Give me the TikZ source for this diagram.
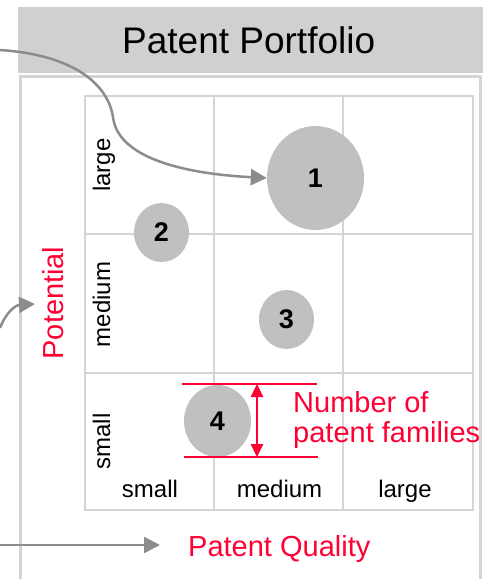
\documentclass[tikz,border=0pt]{standalone}
\usepackage{fontspec}
\setmainfont{Liberation Sans}
\usetikzlibrary{arrows.meta,shapes.geometric}
\definecolor{pred}{RGB}{255,0,51}
\definecolor{garrow}{RGB}{140,140,140}
\definecolor{gridc}{RGB}{212,212,212}
\definecolor{hdr}{RGB}{208,208,208}
\definecolor{bub}{RGB}{192,192,192}
\tikzset{
  gridline/.style={draw=gridc, line width=1.2pt},
  panel/.style={draw=gridc, line width=3pt},
  bubble/.style={ellipse, fill=bub, inner sep=0pt, font=\fontsize{27}{29}\selectfont\bfseries},
  axislbl/.style={inner sep=0pt, font=\fontsize{24}{26}\selectfont},
  redlbl/.style={inner sep=0pt, text=pred, font=\fontsize{29}{30}\selectfont},
  grayarrow/.style={draw=garrow, line width=2.5pt, -{Triangle[length=16pt,width=16pt]}},
  redline/.style={draw=pred, line width=2.5pt},
  redarrow/.style={draw=pred, line width=2.5pt, {Triangle[length=13pt,width=12pt]}-{Triangle[length=13pt,width=12pt]}}
}
\begin{document}
\begin{tikzpicture}[x=1pt,y=-1pt]
\useasboundingbox (0,0) rectangle (483,579);
% header
\fill[hdr] (18,7) rectangle (483,73);
\node[inner sep=0pt, anchor=base west, font=\fontsize{37}{40}\selectfont] (title) at (122,53) {Patent Portfolio};
% panel
\draw[panel] (20,76) rectangle (480,600);
% grid
\draw[gridline] (85,96) rectangle (473,510);
\draw[gridline] (214,96) -- (214,510);
\draw[gridline] (343,96) -- (343,510);
\draw[gridline] (85,234) -- (473,234);
\draw[gridline] (85,373) -- (473,373);
% row labels
\node[axislbl, rotate=90, anchor=base] (rl) at (110,165) {large};
\node[axislbl, rotate=90, anchor=base] (rm) at (110,304.5) {medium};
\node[axislbl, rotate=90, anchor=base] (rs) at (110,441.5) {small};
% column labels
\node[axislbl, anchor=base] (cs) at (150,497) {small};
\node[axislbl, anchor=base] (cm) at (279.5,497) {medium};
\node[axislbl, anchor=base] (cl) at (405,497) {large};
% axis titles
\node[redlbl, rotate=90, anchor=base] (pot) at (63,303) {Potential};
\node[redlbl, anchor=base west] (pq) at (188,556) {Patent Quality};
% bubbles
\node[bubble, minimum width=97pt, minimum height=104pt] (b1) at (315.5,178) {1};
\node[bubble, minimum width=55pt, minimum height=59pt] (b2) at (161.5,232.5) {2};
\node[bubble, minimum width=55pt, minimum height=59pt] (b3) at (286.5,319.5) {3};
\node[bubble, minimum width=67pt, minimum height=72pt] (b4) at (217.5,421) {4};
% legend
\coordinate (rt1) at (182,384);
\coordinate (rt2) at (317,384);
\coordinate (rb1) at (184,457);
\coordinate (rb2) at (318,457);
\coordinate (ra1) at (257,384);
\coordinate (ra2) at (257,457);
\draw[redline] (rt1) -- (rt2);
\draw[redline] (rb1) -- (rb2);
\draw[redarrow] (ra1) -- (ra2);
\node[redlbl, anchor=base west] (nf1) at (293,412) {Number of};
\node[redlbl, anchor=base west] (nf2) at (293,442) {patent families};
% gray arrows
\coordinate (s1) at (0,50);
\coordinate (s2) at (0,328);
\coordinate (t2) at (35,304);
\coordinate (s3) at (0,545);
\coordinate (t3) at (160,545);
\draw[grayarrow] (s1) .. controls (75,55) and (108,85) .. (113,117) .. controls (118,160) and (190,174) .. (b1.west);
\draw[grayarrow] (s2) .. controls (6,312) and (16,305) .. (t2);
\draw[grayarrow] (s3) -- (t3);
\end{tikzpicture}
\end{document}
